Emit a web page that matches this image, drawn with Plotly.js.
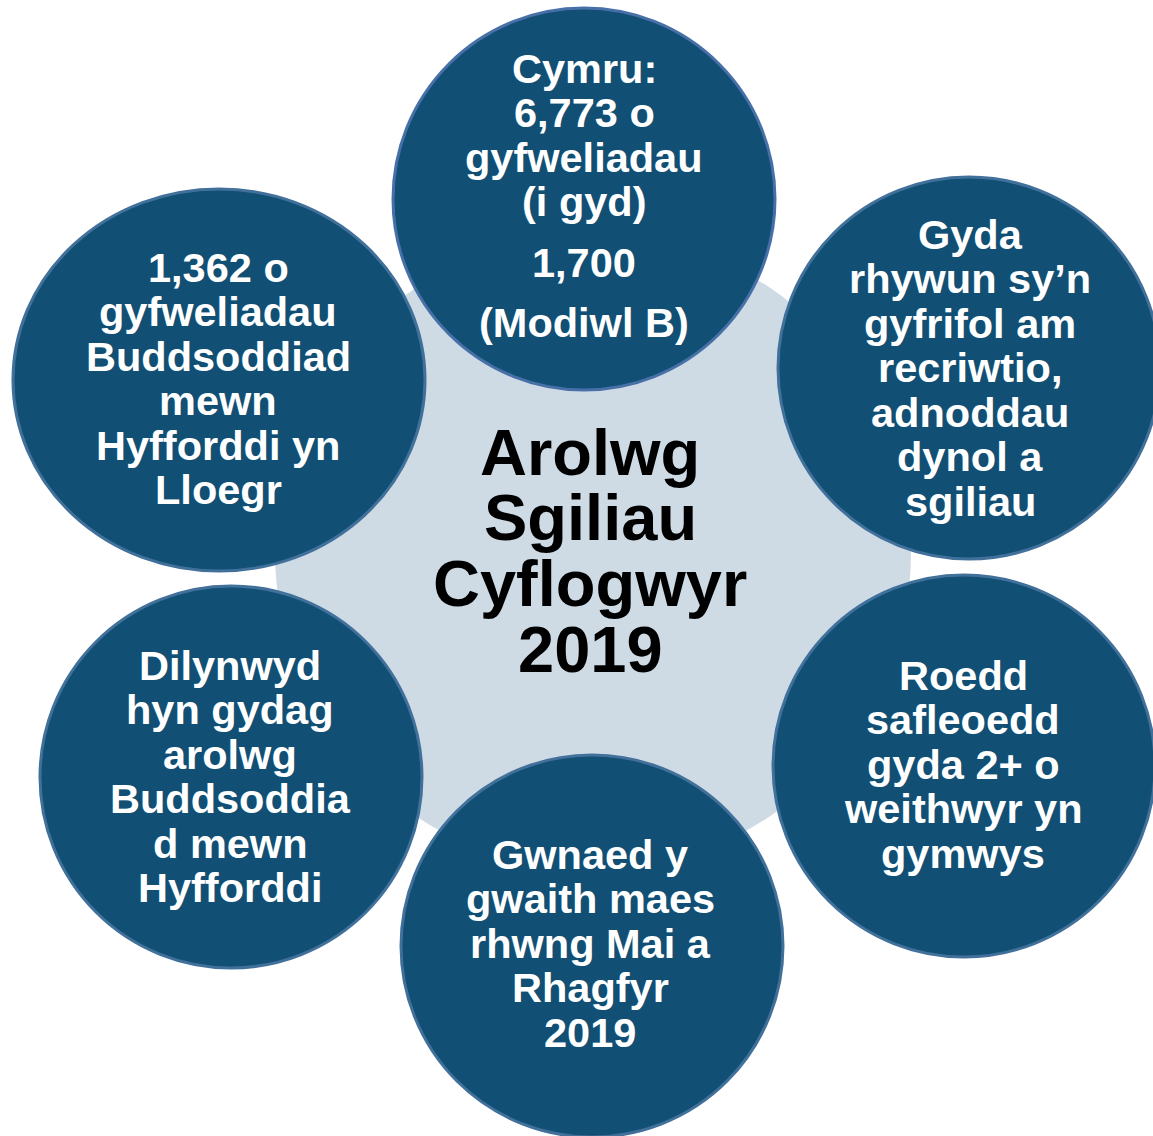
<!DOCTYPE html>
<html>
<head>
<meta charset="utf-8">
<script src="https://cdn.plot.ly/plotly-3.0.1.min.js"></script>
<style>html,body{margin:0;padding:0;background:#fff;}#chart{width:1153px;height:1136px;}</style>
</head>
<body>
<div id="chart"></div>
<script>
// ---- Text content (data) ----
const centreTitle = ["Arolwg", "Sgiliau", "Cyflogwyr", "2019"];
const topTotals   = ["Cymru:", "6,773 o", "gyfweliadau", "(i gyd)"];
const topModule   = ["1,700", "(Modiwl B)"];
const rightTop    = ["Gyda", "rhywun sy\u2019n", "gyfrifol am", "recriwtio,", "adnoddau", "dynol a", "sgiliau"];
const rightBottom = ["Roedd", "safleoedd", "gyda 2+ o", "weithwyr yn", "gymwys"];
const bottomText  = ["Gwnaed y", "gwaith maes", "rhwng Mai a", "Rhagfyr", "2019"];
const leftBottom  = ["Dilynwyd", "hyn gydag", "arolwg", "Buddsoddia", "d mewn", "Hyfforddi"];
const leftTop     = ["1,362 o", "gyfweliadau", "Buddsoddiad", "mewn", "Hyfforddi yn", "Lloegr"];

// ---- Layout geometry (pixels, y downwards) ----
const W = 1153, H = 1136;
const DARK = '#114f74', EDGE = '#41709a', EDGE_TOP = '#4870a8', LIGHT = '#cedbe4';
const FONT = 'Liberation Sans, Arial, Helvetica, sans-serif';
const CIRCLE_FS = 41.5, CIRCLE_PITCH = 44.5;
const CENTRE_FS = 65, CENTRE_PITCH = 65.7;

const outer = [
  {cx: 584, cy: 199, rx: 191, ry: 191, edge: EDGE_TOP},
  {cx: 969, cy: 368, rx: 191, ry: 191, edge: EDGE},
  {cx: 964, cy: 766, rx: 191, ry: 191, edge: EDGE},
  {cx: 592, cy: 946, rx: 191, ry: 191, edge: EDGE},
  {cx: 231, cy: 777, rx: 191, ry: 191, edge: EDGE},
  {cx: 219, cy: 380, rx: 206, ry: 191, edge: EDGE}
];

// text blocks: lines, centre x, first baseline, pitch, font size, colour
const blocks = [
  {lines: centreTitle, x: 590, base: 475, pitch: CENTRE_PITCH, fs: CENTRE_FS, color: '#000000'},
  {lines: topTotals,   x: 584, base: 83,  pitch: CIRCLE_PITCH, fs: CIRCLE_FS, color: '#ffffff'},
  {lines: topModule,   x: 584, base: 277, pitch: 60,           fs: CIRCLE_FS, color: '#ffffff'},
  {lines: rightTop,    x: 970, base: 249, pitch: CIRCLE_PITCH, fs: CIRCLE_FS, color: '#ffffff'},
  {lines: rightBottom, x: 963, base: 690, pitch: CIRCLE_PITCH, fs: CIRCLE_FS, color: '#ffffff'},
  {lines: bottomText,  x: 590, base: 869, pitch: CIRCLE_PITCH, fs: CIRCLE_FS, color: '#ffffff'},
  {lines: leftBottom,  x: 230, base: 680, pitch: CIRCLE_PITCH, fs: CIRCLE_FS, color: '#ffffff'},
  {lines: leftTop,     x: 218, base: 282, pitch: CIRCLE_PITCH, fs: CIRCLE_FS, color: '#ffffff'}
];

const shapes = [];
// central light circle
shapes.push({type: 'circle', xref: 'x', yref: 'y', layer: 'below',
  x0: 593 - 318, x1: 593 + 318, y0: 552 - 318, y1: 552 + 318,
  fillcolor: LIGHT, line: {width: 0}});
outer.forEach(c => shapes.push({type: 'circle', xref: 'x', yref: 'y', layer: 'above',
  x0: c.cx - c.rx, x1: c.cx + c.rx, y0: c.cy - c.ry, y1: c.cy + c.ry,
  fillcolor: DARK, line: {color: c.edge, width: 3}}));

const annotations = [];
blocks.forEach(b => {
  b.lines.forEach((t, i) => {
    const baseline = b.base + i * b.pitch;
    annotations.push({
      xref: 'x', yref: 'y', x: b.x, y: baseline - 0.35 * b.fs,
      text: '<b>' + t + '</b>', showarrow: false,
      xanchor: 'center', yanchor: 'middle',
      font: {family: FONT, size: b.fs, color: b.color}
    });
  });
});

const layout = {
  width: W, height: H,
  margin: {l: 0, r: 0, t: 0, b: 0, pad: 0},
  paper_bgcolor: '#ffffff', plot_bgcolor: '#ffffff',
  xaxis: {range: [0, W], visible: false, fixedrange: true},
  yaxis: {range: [H, 0], visible: false, fixedrange: true},
  showlegend: false,
  shapes: shapes,
  annotations: annotations
};

Plotly.newPlot('chart', [{x: [], y: [], type: 'scatter', mode: 'markers', hoverinfo: 'skip'}], layout,
  {staticPlot: true, displayModeBar: false});
</script>
</body>
</html>
